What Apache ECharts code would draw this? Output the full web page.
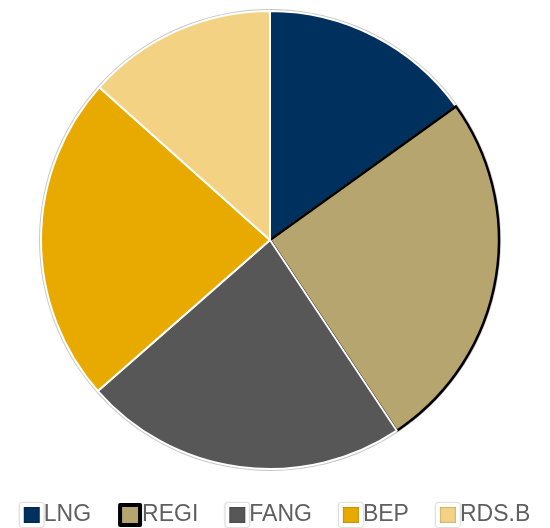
<!DOCTYPE html>
<html>
<head>
<meta charset="utf-8">
<script src="https://cdn.jsdelivr.net/npm/echarts@6/dist/echarts.min.js"></script>
<style>html,body{margin:0;padding:0;background:#fff;}#c{width:550px;height:528px;}</style>
</head>
<body>
<div id="c"></div>
<script>
const categories = ['LNG', 'REGI', 'FANG', 'BEP', 'RDS.B'];
const values = [15.1, 25.6, 22.9, 23.1, 13.4];
const colors = ['#00305e', '#b6a56e', '#575757', '#e9aa00', '#f3d383'];

const chart = echarts.init(document.getElementById('c'), null, {renderer: 'canvas'});
const pieData = categories.map((name, i) => ({
  name: name,
  value: values[i],
  itemStyle: {
    color: colors[i],
    borderColor: name === 'REGI' ? '#000' : '#fff',
    borderWidth: name === 'REGI' ? 2.5 : 2
  }
}));
const legendData = categories.map((name) => ({
  name: name,
  itemStyle: name === 'REGI'
    ? {borderColor: '#000', borderWidth: 4}
    : {borderColor: '#fff', borderWidth: 4, shadowColor: 'rgba(0,0,0,0.45)', shadowBlur: 2}
}));
chart.setOption({
  animation: false,
  backgroundColor: '#fff',
  color: colors,
  legend: {
    data: legendData,
    bottom: -4,
    left: 'center',
    icon: 'rect',
    itemWidth: 20,
    itemHeight: 20,
    itemGap: 27,
    textStyle: {fontFamily: 'Liberation Sans, Arial, sans-serif', fontSize: 23, color: '#5f5f5f', padding: [0, 0, 0, -3]}
  },
  series: [
    {
      type: 'pie',
      silent: true,
      center: [270, 240],
      radius: 231,
      startAngle: 90,
      clockwise: true,
      label: {show: false},
      labelLine: {show: false},
      itemStyle: {color: '#c8c8c8', borderWidth: 0},
      data: [{name: '_bg', value: 1}],
      z: 1
    },
    {
      type: 'pie',
      center: [270, 240],
      radius: 229,
      startAngle: 90,
      clockwise: true,
      label: {show: false},
      labelLine: {show: false},
      emphasis: {disabled: true},
      data: pieData,
      z: 2
    }
  ]
});
</script>
</body>
</html>
